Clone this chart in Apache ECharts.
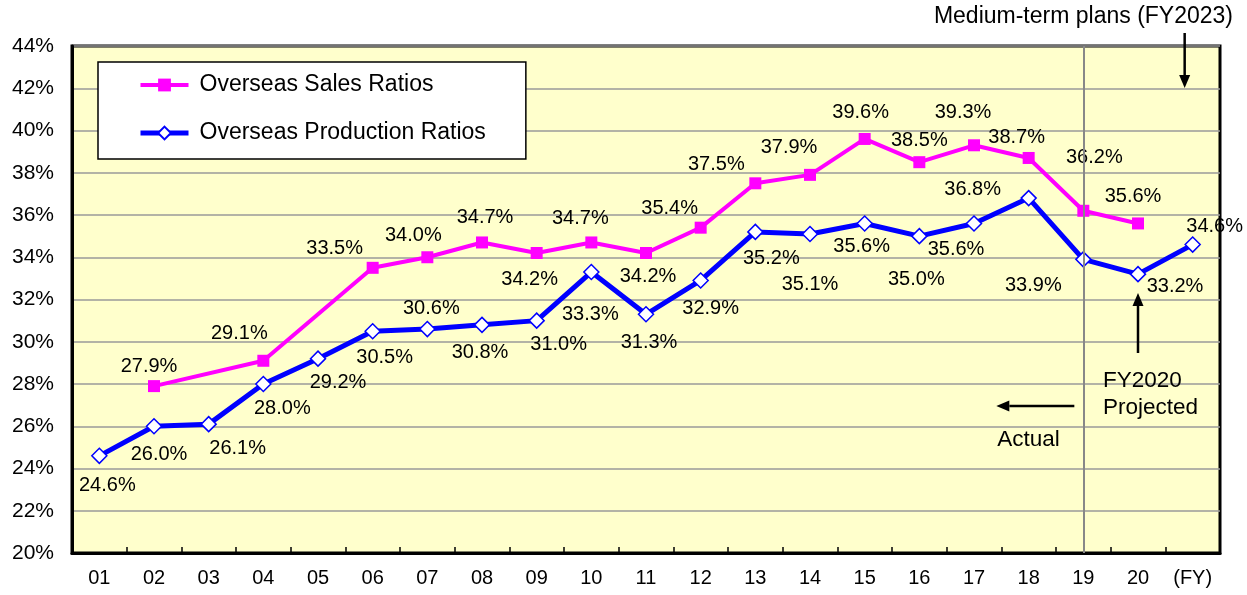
<!DOCTYPE html>
<html>
<head>
<meta charset="utf-8">
<script src="https://cdn.jsdelivr.net/npm/echarts@6/dist/echarts.min.js"></script>
<style>
  html, body { margin: 0; padding: 0; background: #fff; }
  #main { width: 1247px; height: 595px; }
</style>
</head>
<body>
<div id="main"></div>
<script>
// fiscal years, last slot is the medium-term plan (FY2023)
const years = ['01', '02', '03', '04', '05', '06', '07', '08', '09', '10',
  '11', '12', '13', '14', '15', '16', '17', '18', '19', '20', '(FY)'];

// overseas sales ratios (%), null = no data
const salesRatios = [null, 27.9, null, 29.1, null, 33.5, 34.0, 34.7, 34.2, 34.7,
  34.2, 35.4, 37.5, 37.9, 39.6, 38.5, 39.3, 38.7, 36.2, 35.6, null];

// overseas production ratios (%)
const productionRatios = [24.6, 26.0, 26.1, 28.0, 29.2, 30.5, 30.6, 30.8, 31.0, 33.3,
  31.3, 32.9, 35.2, 35.1, 35.6, 35.0, 35.6, 36.8, 33.9, 33.2, 34.6];

// y axis ticks
const yMin = 20, yMax = 44, yStep = 2;

// label offsets (px) from each point
const salesLabelOffset = [null, [-5, -20], null, [-24, -27], null, [-38, -19], [-14, -22], [3, -25], [-7, 26], [-11, -24],
  [2, 23], [-31, -19], [-39, -19], [-21, -27], [-4, -26], [0, -22], [-11, -33], [-12, -20], [11, -53], [-5, -27], null];
const prodLabelOffset = [[8, 30], [5, 28], [29, 24], [19, 24], [20, 24], [12, 26], [4, -21], [-2, 28], [22, 24], [-1, 42],
  [3, 28], [10, 28], [16, 27], [0, 50], [-3, 23], [-3, 43], [-18, 26], [-56, -9], [-50, 26], [37, 12], [22, -18]];

const FONT = '"Liberation Sans", Arial, sans-serif';

const chart = echarts.init(document.getElementById('main'));

function toItems(values, offsets) {
  return values.map((v, i) => v == null ? '-' : {
    value: v,
    label: { offset: offsets[i] }
  });
}

const pointLabel = {
  show: true,
  position: 'inside',
  align: 'center',
  verticalAlign: 'middle',
  color: '#000',
  fontSize: 20,
  fontFamily: FONT,
  formatter: p => p.value.toFixed(1) + '%'
};

chart.setOption({
  animation: false,
  backgroundColor: '#fff',
  grid: {
    left: 72, right: 27, top: 46, bottom: 42,
    show: true,
    backgroundColor: '#FFFFCC',
    borderColor: '#000',
    borderWidth: 3
  },
  legend: {
    orient: 'vertical',
    left: 98,
    top: 62,
    backgroundColor: '#fff',
    borderColor: '#000',
    borderWidth: 1.5,
    borderRadius: 0,
    padding: [11, 40, 14, 40],
    itemWidth: 48,
    itemHeight: 16,
    itemGap: 24,
    textStyle: { fontSize: 23, fontFamily: FONT, color: '#000', lineHeight: 24, padding: [0, 0, 0, 6] },
    data: [
      { name: 'Overseas Sales Ratios', lineStyle: { width: 4 } },
      { name: 'Overseas Production Ratios', lineStyle: { width: 5 } }
    ]
  },
  xAxis: {
    type: 'category',
    data: years,
    boundaryGap: true,
    axisLine: { lineStyle: { color: '#000', width: 3 } },
    axisTick: { show: true, inside: true, length: 6, lineStyle: { color: '#000', width: 1.5 } },
    axisLabel: { color: '#000', fontSize: 20, fontFamily: FONT, margin: 15, interval: 0 }
  },
  yAxis: {
    type: 'value',
    min: yMin,
    max: yMax,
    interval: yStep,
    axisLine: { show: true, lineStyle: { color: '#000', width: 3 } },
    axisTick: { show: false },
    axisLabel: { color: '#000', fontSize: 21, fontFamily: FONT, margin: 18, formatter: '{value}%' },
    splitLine: { lineStyle: { color: '#9a9a9a', width: 1.5 } }
  },
  series: [
    {
      name: 'Overseas Sales Ratios',
      type: 'line',
      data: toItems(salesRatios, salesLabelOffset),
      connectNulls: true,
      symbol: 'rect',
      symbolSize: 12,
      lineStyle: { color: '#FF00FF', width: 4 },
      itemStyle: { color: '#FF00FF' },
      label: pointLabel,
      z: 3,
      markLine: {
        silent: true,
        symbol: 'none',
        label: { show: false },
        lineStyle: { color: '#888', width: 2, type: 'solid' },
        data: [{ xAxis: '19' }]
      }
    },
    {
      name: 'Overseas Production Ratios',
      type: 'line',
      data: toItems(productionRatios, prodLabelOffset),
      symbol: 'diamond',
      symbolSize: 15,
      lineStyle: { color: '#0000FF', width: 5 },
      itemStyle: { color: '#fff', borderColor: '#0000FF', borderWidth: 1.5 },
      label: pointLabel,
      z: 4
    }
  ]
});

// annotations: arrows and notes, anchored to the axes
const px = (cat, val) => chart.convertToPixel({ xAxisIndex: 0, yAxisIndex: 0 }, [cat, val]);

function arrow(x1, y1, x2, y2) {
  const ang = Math.atan2(y2 - y1, x2 - x1);
  const len = 13, half = 5.5;
  const bx = x2 - len * Math.cos(ang), by = y2 - len * Math.sin(ang);
  const nx = -Math.sin(ang) * half, ny = Math.cos(ang) * half;
  return [
    { type: 'line', shape: { x1: x1, y1: y1, x2: bx, y2: by }, style: { stroke: '#000', lineWidth: 2.5 } },
    { type: 'polygon', shape: { points: [[x2, y2], [bx + nx, by + ny], [bx - nx, by - ny]] }, style: { fill: '#000' } }
  ];
}

const planX = px('(FY)', 40)[0] - 8;
const fy20X = px('20', 40)[0];
const fy19X = px('19', 40)[0];
const note = (text, x, y, align, size) => ({
  type: 'text', x: x, y: y,
  style: { text: text, align: align, verticalAlign: 'middle', fill: '#000', font: size + 'px ' + FONT }
});

chart.setOption({
  graphic: [
    ...arrow(planX, 33, planX, 88),
    ...arrow(fy20X, 353, fy20X, 293),
    ...arrow(fy19X - 9, 406, fy19X - 87, 406),
    note('Medium-term plans (FY2023)', 1233, 17, 'right', 23),
    note('FY2020', fy20X - 35, 381, 'left', 22.5),
    note('Projected', fy20X - 35, 408, 'left', 22.5),
    note('Actual', fy19X - 86, 440, 'left', 22.5)
  ]
});
</script>
</body>
</html>
